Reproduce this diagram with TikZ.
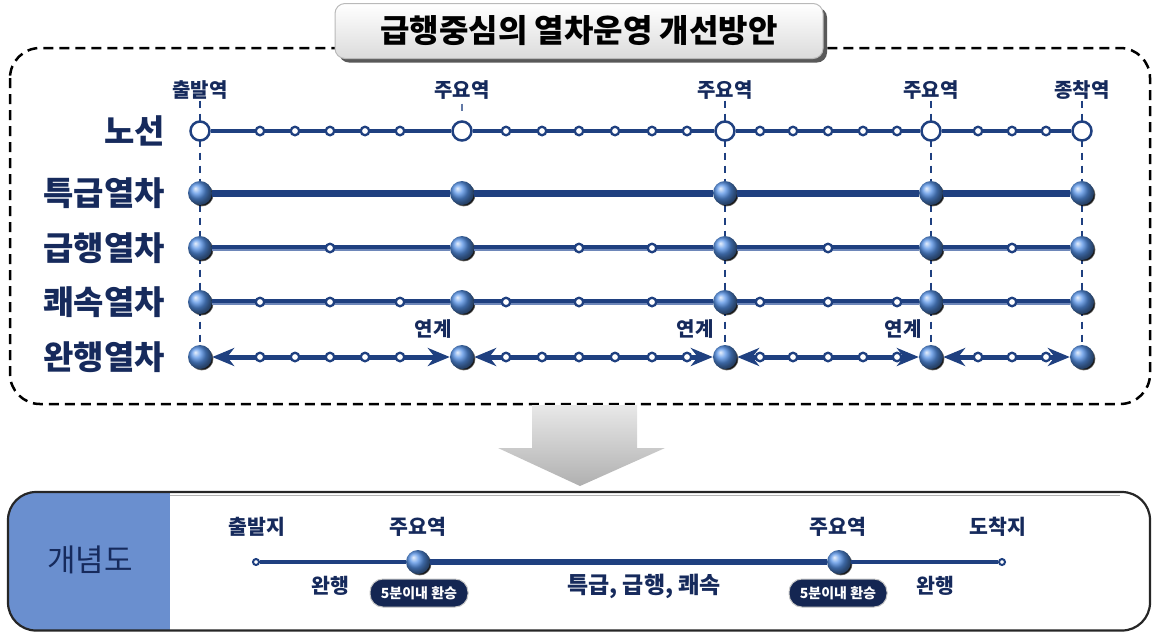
\documentclass[tikz,border=0pt]{standalone}
\usepackage{fontspec}
\setmainfont{Noto Sans CJK KR}
\usetikzlibrary{arrows.meta,shadows,backgrounds}
\definecolor{navy}{RGB}{22,42,92}
\definecolor{lineblue}{RGB}{31,64,128}
\definecolor{lightline}{RGB}{110,135,185}
\definecolor{ballblue}{RGB}{85,145,230}
\definecolor{panelblue}{RGB}{106,143,207}
\definecolor{pillnavy}{RGB}{20,38,82}
\begin{document}
\begin{tikzpicture}[x=1pt,y=-1pt,
  rowlab/.style={anchor=east, font=\fontsize{33}{34}\selectfont\bfseries, text=navy, inner sep=0pt},
  stlab/.style={font=\fontsize{20}{21}\selectfont\bfseries, text=navy, inner sep=1pt},
  bigopen/.style={circle, draw=lineblue, line width=2.5pt, fill=white, minimum size=19pt, inner sep=0pt},
  smallst/.style={circle, draw=lineblue, line width=2.3pt, fill=white, minimum size=8.5pt, inner sep=0pt},
  sph/.style={circle, minimum size=24pt, inner sep=0pt, shading=ball, ball color=ballblue,
     circular drop shadow={shadow xshift=1.6pt, shadow yshift=-1.6pt, opacity=0.9, fill=black, shadow scale=1}},
  nline/.style={draw=lineblue, line width=3.5pt},
  tline/.style={draw=lineblue, line width=7pt},
  gline/.style={draw=lineblue, line width=6pt, postaction={draw=lightline, line width=1.6pt, transform canvas={yshift=-2.2pt}}},
  wline/.style={draw=lineblue, line width=5pt},
  tip/.style={{Stealth[length=22pt,width=18pt,inset=7pt]}-{Stealth[length=22pt,width=18pt,inset=7pt]}},
  vdash/.style={draw=lineblue, line width=1.8pt, dash pattern=on 7pt off 6pt},
  titlebox/.style={rounded corners=10pt, minimum width=488pt, minimum height=55pt, top color=white, bottom color=gray!28,
     draw=gray!55, line width=1pt, font=\fontsize{32}{33}\selectfont\bfseries, text=black,
     drop shadow={shadow xshift=4pt, shadow yshift=-4pt, opacity=1, fill=gray!70!black}},
  pill/.style={rounded corners=13pt, minimum width=98pt, minimum height=28pt, fill=pillnavy, draw=gray!45, line width=1pt,
     text=white, font=\fontsize{14}{15}\selectfont\bfseries, inner sep=0pt},
  blab/.style={font=\fontsize{20.5}{21}\selectfont\bfseries, text=navy, inner sep=1pt}
]
\useasboundingbox (0,0) rectangle (1155,633);

% dashed frame
\draw[black, line width=2.5pt, dash pattern=on 10pt off 6pt, rounded corners=30pt] (10,48) rectangle (1150,404);

% title
\node[titlebox] (title) at (579,31) {급행중심의 열차운영 개선방안};

% station labels
\node[stlab] (lA) at (200,90) {출발역};
\node[stlab] (lB) at (462,90) {주요역};
\node[stlab] (lC) at (725,90) {주요역};
\node[stlab] (lD) at (931,90) {주요역};
\node[stlab] (lE) at (1082,90) {종착역};

% row labels
\node[rowlab] (r1) at (165,131) {노선};
\node[rowlab] (r2) at (165,193) {특급열차};
\node[rowlab] (r3) at (165,248) {급행열차};
\node[rowlab] (r4) at (165,302) {쾌속열차};
\node[rowlab] (r5) at (165,357) {완행열차};

% major stations
\foreach \n/\x in {A/200,B/462,C/725,D/931,E/1082}{
  \node[bigopen] (n\n) at (\x,131) {};
  \node[sph] (t\n) at (\x,193) {};
  \node[sph] (g\n) at (\x,248) {};
  \node[sph] (k\n) at (\x,302) {};
  \node[sph] (w\n) at (\x,357) {};
}

% vertical dashed guides
\begin{pgfonlayer}{background}
  \draw[vdash] (lA) -- (wA);
  \draw[draw=lineblue!70, line width=1.8pt, dash pattern=on 7pt off 40pt, shorten <=3pt] (lB) -- (nB);
  \draw[vdash] (lC) -- (wC);
  \draw[vdash] (lD) -- (wD);
  \draw[vdash] (lE) -- (wE);
\end{pgfonlayer}

% row lines
\foreach \a/\b in {A/B,B/C,C/D,D/E}{
  \draw[nline] (n\a) -- (n\b);
  \draw[tline] (t\a) -- (t\b);
  \draw[gline] (g\a) -- (g\b);
  \draw[gline] (k\a) -- (k\b);
  \draw[wline, tip] (w\a) -- (w\b);
}

% small stations
\foreach \x in {260,295,330,365,400,506,542,579,615,652,687,760,793,828,863,897,978,1012,1046}{
  \node[smallst] (ns\x) at (\x,131) {};
  \node[smallst] (ws\x) at (\x,357) {};
}
\foreach \x in {330,579,652,828,1012}{
  \node[smallst] (gs\x) at (\x,248) {};
}
\foreach \x in {260,330,400,506,579,652,760,828,897,1012}{
  \node[smallst] (ks\x) at (\x,302) {};
}

% link labels
\node[stlab] (y1) at (433,329) {연계};
\node[stlab] (y2) at (695,329) {연계};
\node[stlab] (y3) at (903,329) {연계};

% down arrow
\shade[top color=gray!18, bottom color=gray!62] (532,405) -- (637,405) -- (637,448) -- (665,448) -- (580,486) -- (498,448) -- (532,448) -- cycle;

% bottom box
\begin{scope}
  \clip[rounded corners=28pt] (8,492) rectangle (1150,630.5);
  \fill[panelblue] (8,492) rectangle (170,631);
\end{scope}
\draw[black!85, line width=2.2pt, rounded corners=28pt] (8,492) rectangle (1150,630.5);
\draw[gray!60, line width=1.5pt] (170,495.5) -- (1120,495.5);
\node[font=\fontsize{31}{32}\selectfont, text=navy] (concept) at (90,560) {개념도};

\node[smallst, line width=2pt, minimum size=6pt] (b1) at (256,562) {};
\node[sph] (b2) at (418,562) {};
\node[sph] (b3) at (839,562) {};
\node[smallst, line width=2pt, minimum size=6pt] (b4) at (1002,562) {};
\draw[nline] (b1) -- (b2);
\draw[draw=lineblue, line width=6pt] (b2) -- (b3);
\draw[nline] (b3) -- (b4);

\node[blab] (c1) at (257,527) {출발지};
\node[blab] (c2) at (418,527) {주요역};
\node[blab] (c3) at (838,527) {주요역};
\node[blab] (c4) at (998,527) {도착지};
\node[blab] (d1) at (330,586) {완행};
\node[blab, font=\fontsize{23}{24}\selectfont\bfseries] (d2) at (644,586) {특급, 급행, 쾌속};
\node[blab] (d3) at (935,586) {완행};
\node[pill] (p1) at (419,593) {5분이내 환승};
\node[pill] (p2) at (838,593) {5분이내 환승};
\end{tikzpicture}
\end{document}
